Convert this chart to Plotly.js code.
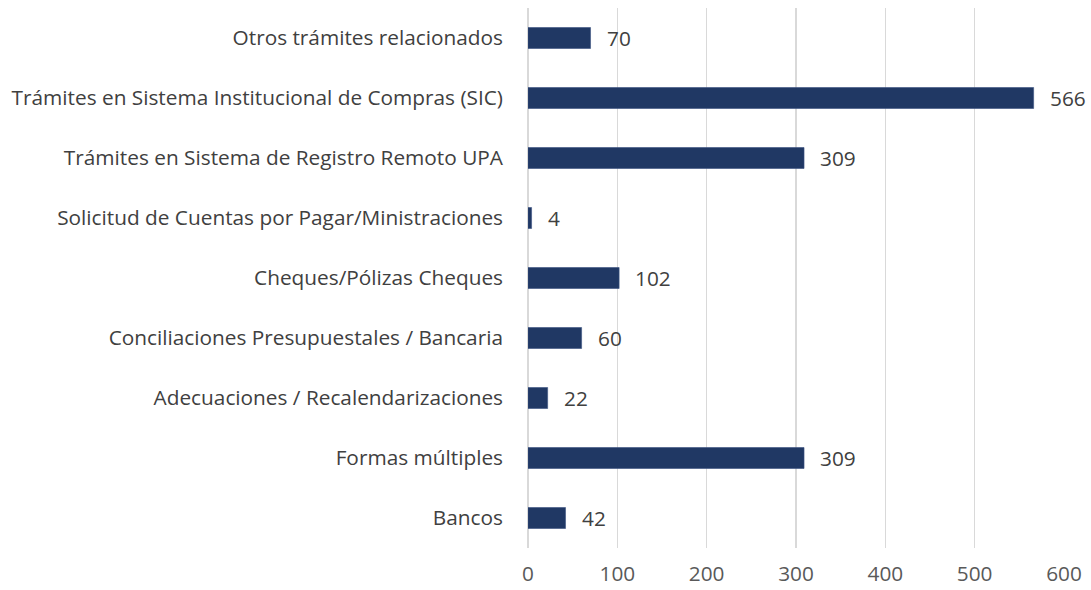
<!DOCTYPE html>
<html>
<head>
<meta charset="utf-8">
<script src="https://cdn.plot.ly/plotly-3.0.1.min.js"></script>
<style>html,body{margin:0;padding:0;background:#fff;}#chart{width:1091px;height:590px;}</style>
</head>
<body>
<div id="chart"></div>
<script>
// Categories listed bottom to top
const categories = [
  "Bancos",
  "Formas múltiples",
  "Adecuaciones / Recalendarizaciones",
  "Conciliaciones Presupuestales / Bancaria",
  "Cheques/Pólizas Cheques",
  "Solicitud de Cuentas por Pagar/Ministraciones",
  "Trámites en Sistema de Registro Remoto UPA",
  "Trámites en Sistema Institucional de Compras (SIC)",
  "Otros trámites relacionados"
];
const values = [42, 309, 22, 60, 102, 4, 309, 566, 70];
const xTicks = [0, 100, 200, 300, 400, 500, 600];

const FONT = "'Open Sans', sans-serif";
const FS = 20.8;

const trace = {
  type: "bar",
  orientation: "h",
  y: categories,
  x: values,
  marker: {color: "#203864", line: {color: "#3a5282", width: 0.6}},
  hoverinfo: "x+y"
};

const annotations = values.map((v, i) => ({
  x: v, y: categories[i], xref: "x", yref: "y",
  text: String(v), showarrow: false,
  xanchor: "left", yanchor: "middle", xshift: 14,
  font: {family: FONT, size: FS, color: "#404040"}
}));

const layout = {
  width: 1091, height: 590,
  margin: {l: 528, r: 27, t: 8, b: 42},
  paper_bgcolor: "#fff", plot_bgcolor: "#fff",
  bargap: 0.65,
  showlegend: false,
  font: {family: FONT, size: FS, color: "#404040"},
  xaxis: {
    range: [0, 600], tickvals: xTicks, ticktext: xTicks.map(String),
    showgrid: true, gridcolor: "#d9d9d9", gridwidth: 1.5,
    zeroline: true, zerolinecolor: "#d9d9d9", zerolinewidth: 1.5,
    showline: false, ticks: "", ticklabelstandoff: 11,
    tickfont: {family: FONT, size: FS, color: "#595959"},
    fixedrange: true
  },
  yaxis: {
    type: "category", categoryorder: "array", categoryarray: categories,
    showgrid: false, zeroline: false, showline: false, ticks: "",
    ticklabelstandoff: 24,
    tickfont: {family: FONT, size: FS, color: "#404040"},
    fixedrange: true
  },
  annotations: annotations
};

Plotly.newPlot("chart", [trace], layout, {displayModeBar: false, staticPlot: true});
</script>
</body>
</html>
